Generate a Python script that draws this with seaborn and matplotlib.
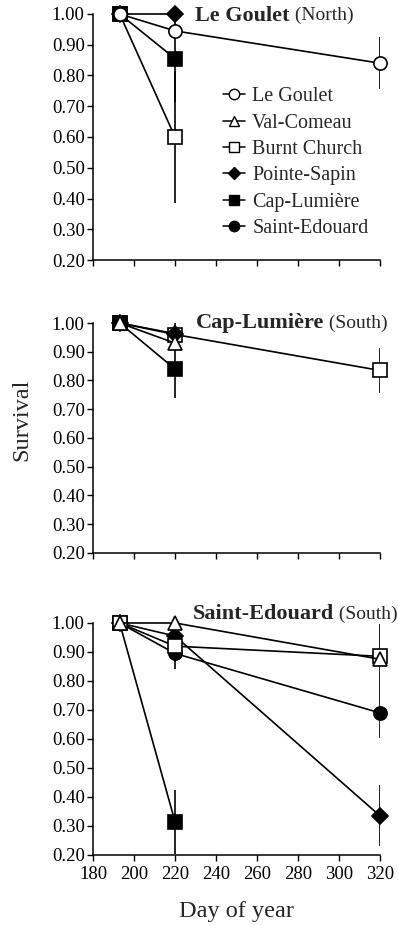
import matplotlib
matplotlib.use("Agg")
import matplotlib.pyplot as plt
from matplotlib.lines import Line2D
import seaborn as sns
import pandas as pd

# --- data ---
sites = ['Le Goulet', 'Val-Comeau', 'Burnt Church', 'Pointe-Sapin', 'Cap-Lumière', 'Saint-Edouard']
site_markers = {'Le Goulet': ('o', 'white'), 'Val-Comeau': ('^', 'white'),
                'Burnt Church': ('s', 'white'), 'Pointe-Sapin': ('D', 'black'),
                'Cap-Lumière': ('s', 'black'), 'Saint-Edouard': ('o', 'black')}

# panel 1: Le Goulet (North)
p1_sites = ['Burnt Church', 'Cap-Lumière', 'Pointe-Sapin', 'Le Goulet']
p1_days = [[193, 220], [193, 220], [193, 220], [193, 220, 320]]
p1_surv = [[1.00, 0.60], [1.00, 0.855], [1.00, 1.00], [1.00, 0.945, 0.84]]
p1_err = [[0, 0.215], [0, 0.14], [0, 0], [0, 0, 0.085]]

# panel 2: Cap-Lumière (South)
p2_sites = ['Burnt Church', 'Pointe-Sapin', 'Cap-Lumière', 'Val-Comeau']
p2_days = [[193, 220, 320], [193, 220], [193, 220], [193, 220]]
p2_surv = [[1.00, 0.96, 0.835], [1.00, 0.963], [1.00, 0.84], [1.00, 0.93]]
p2_err = [[0, 0, 0.078], [0, 0.055], [0, 0.10], [0, 0]]

# panel 3: Saint-Edouard (South)
p3_sites = ['Cap-Lumière', 'Pointe-Sapin', 'Saint-Edouard', 'Burnt Church', 'Val-Comeau']
p3_days = [[193, 220], [193, 220, 320], [193, 220, 320], [193, 220, 320], [193, 220, 320]]
p3_surv = [[1.00, 0.315], [1.00, 0.955, 0.335], [1.00, 0.895, 0.69],
           [1.00, 0.92, 0.885], [1.00, 1.00, 0.875]]
p3_err = [[0, 0.11], [0, 0, 0.105], [0, 0.055, 0.085], [0, 0, 0.11], [0, 0, 0]]

titles = [('Le Goulet', ' (North)'), ('Cap-Lumière', ' (South)'), ('Saint-Edouard', ' (South)')]

sns.set_style('ticks')
plt.rcParams['font.family'] = ['Liberation Serif', 'DejaVu Serif']

fig = plt.figure(figsize=(3.98, 9.25), dpi=100)
# axes boxes in figure fractions [left, bottom, width, height]
boxes = [[0.2337, 0.7189, 0.721, 0.266],
         [0.2337, 0.4022, 0.721, 0.2486],
         [0.2337, 0.0757, 0.721, 0.2508]]
panels = [(p1_sites, p1_days, p1_surv, p1_err),
          (p2_sites, p2_days, p2_surv, p2_err),
          (p3_sites, p3_days, p3_surv, p3_err)]

axes = []
for i, (box, (names, days, surv, err)) in enumerate(zip(boxes, panels)):
    ax = fig.add_axes(box)
    axes.append(ax)
    for name, d, s, e in zip(names, days, surv, err):
        df = pd.DataFrame({'day': d, 'surv': s})
        mk, fc = site_markers[name]
        ax.errorbar(d, s, yerr=e, fmt='none', ecolor='black', elinewidth=1.2,
                    capsize=0, clip_on=True, zorder=2)
        sns.lineplot(data=df, x='day', y='surv', ax=ax, color='black', lw=1.2,
                     marker=mk, markersize=9.5 if mk != 'D' else 8, markerfacecolor=fc,
                     markeredgecolor='black', markeredgewidth=1.2,
                     clip_on=False, zorder=3)
    ax.set_xlim(180, 320)
    ax.set_ylim(0.2, 1.0)
    ax.set_xticks(range(180, 321, 20))
    ax.set_yticks([0.2, 0.3, 0.4, 0.5, 0.6, 0.7, 0.8, 0.9, 1.0])
    ax.set_yticklabels([f'{v:.2f}' for v in ax.get_yticks()])
    ax.set_xlabel('')
    ax.set_ylabel('')
    if i < 2:
        ax.set_xticklabels([])
    ax.tick_params(axis='both', direction='out', length=4, width=1, labelsize=13.5,
                   colors='black')
    ax.tick_params(axis='y', pad=2)
    ax.tick_params(axis='x', pad=4)
    sns.despine(ax=ax)
    for sp in ['left', 'bottom']:
        ax.spines[sp].set_linewidth(1.1)
        ax.spines[sp].set_color('black')

# panel titles: bold site name + regular region
title_pos = [(230, 0.995), (230, 1.0), (228.5, 1.03)]
for ax, (bold, reg), (tx, ty) in zip(axes, titles, title_pos):
    t = ax.text(tx, ty, bold, fontsize=16, fontweight='bold', ha='left', va='center')
    ax.annotate(reg, xy=(1, 0.5), xycoords=t, ha='left', va='center', fontsize=14)

# legend in the top panel
handles = [Line2D([0], [0], color='black', lw=1.1, marker=site_markers[s][0],
                  markerfacecolor=site_markers[s][1], markeredgecolor='black',
                  markersize=7.5 if site_markers[s][0] != 'D' else 6.5)
           for s in sites]
axes[0].legend(handles, sites, loc='upper left', bbox_to_anchor=(0.425, 0.735),
               frameon=False, fontsize=14.5, handlelength=1.1, handletextpad=0.35,
               labelspacing=0.36, borderaxespad=0)

axes[2].set_xlabel('Day of year', fontsize=17.5, labelpad=13)
fig.text(0.055, 1 - 420 / 925, 'Survival', rotation=90, fontsize=17.5,
         ha='center', va='center')

fig.savefig('out.png', dpi=100)
